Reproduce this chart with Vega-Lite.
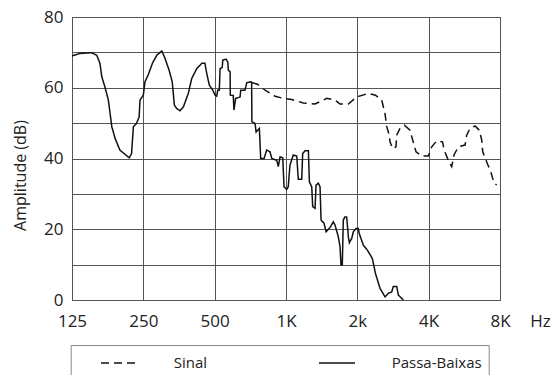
{
  "$schema": "https://vega.github.io/schema/vega-lite/v6.json",
  "width": 428,
  "height": 283,
  "autosize": {"type": "none"},
  "padding": {"left": 72, "top": 17, "right": 55, "bottom": 75},
  "background": "white",
  "config": {
    "font": "Open Sans",
    "view": {"stroke": "#333", "strokeWidth": 1}
  },
  "data": {
    "values": [
      {"f": 125, "db": 69.0, "serie": "Passa-Baixas"},
      {"f": 135, "db": 69.7, "serie": "Passa-Baixas"},
      {"f": 151, "db": 69.9, "serie": "Passa-Baixas"},
      {"f": 159, "db": 69.2, "serie": "Passa-Baixas"},
      {"f": 164, "db": 66.9, "serie": "Passa-Baixas"},
      {"f": 167, "db": 63.1, "serie": "Passa-Baixas"},
      {"f": 172, "db": 60.3, "serie": "Passa-Baixas"},
      {"f": 178, "db": 56.5, "serie": "Passa-Baixas"},
      {"f": 184, "db": 49.0, "serie": "Passa-Baixas"},
      {"f": 190, "db": 45.7, "serie": "Passa-Baixas"},
      {"f": 199, "db": 42.4, "serie": "Passa-Baixas"},
      {"f": 209, "db": 41.2, "serie": "Passa-Baixas"},
      {"f": 218, "db": 40.2, "serie": "Passa-Baixas"},
      {"f": 223, "db": 41.4, "serie": "Passa-Baixas"},
      {"f": 227, "db": 49.0, "serie": "Passa-Baixas"},
      {"f": 234, "db": 49.9, "serie": "Passa-Baixas"},
      {"f": 240, "db": 51.8, "serie": "Passa-Baixas"},
      {"f": 242, "db": 56.5, "serie": "Passa-Baixas"},
      {"f": 250, "db": 57.9, "serie": "Passa-Baixas"},
      {"f": 254, "db": 61.7, "serie": "Passa-Baixas"},
      {"f": 262, "db": 63.6, "serie": "Passa-Baixas"},
      {"f": 273, "db": 66.9, "serie": "Passa-Baixas"},
      {"f": 285, "db": 69.2, "serie": "Passa-Baixas"},
      {"f": 299, "db": 70.4, "serie": "Passa-Baixas"},
      {"f": 307, "db": 68.7, "serie": "Passa-Baixas"},
      {"f": 321, "db": 65.0, "serie": "Passa-Baixas"},
      {"f": 331, "db": 61.7, "serie": "Passa-Baixas"},
      {"f": 338, "db": 55.1, "serie": "Passa-Baixas"},
      {"f": 346, "db": 54.1, "serie": "Passa-Baixas"},
      {"f": 357, "db": 53.5, "serie": "Passa-Baixas"},
      {"f": 369, "db": 54.6, "serie": "Passa-Baixas"},
      {"f": 387, "db": 58.4, "serie": "Passa-Baixas"},
      {"f": 400, "db": 62.6, "serie": "Passa-Baixas"},
      {"f": 420, "db": 65.4, "serie": "Passa-Baixas"},
      {"f": 441, "db": 66.9, "serie": "Passa-Baixas"},
      {"f": 455, "db": 66.9, "serie": "Passa-Baixas"},
      {"f": 463, "db": 64.0, "serie": "Passa-Baixas"},
      {"f": 475, "db": 60.7, "serie": "Passa-Baixas"},
      {"f": 491, "db": 59.3, "serie": "Passa-Baixas"},
      {"f": 502, "db": 57.9, "serie": "Passa-Baixas"},
      {"f": 510, "db": 57.6, "serie": "Passa-Baixas"},
      {"f": 515, "db": 59.3, "serie": "Passa-Baixas"},
      {"f": 523, "db": 59.3, "serie": "Passa-Baixas"},
      {"f": 527, "db": 65.4, "serie": "Passa-Baixas"},
      {"f": 538, "db": 65.7, "serie": "Passa-Baixas"},
      {"f": 541, "db": 67.8, "serie": "Passa-Baixas"},
      {"f": 558, "db": 68.1, "serie": "Passa-Baixas"},
      {"f": 568, "db": 67.3, "serie": "Passa-Baixas"},
      {"f": 571, "db": 65.0, "serie": "Passa-Baixas"},
      {"f": 581, "db": 64.5, "serie": "Passa-Baixas"},
      {"f": 582, "db": 57.9, "serie": "Passa-Baixas"},
      {"f": 599, "db": 57.8, "serie": "Passa-Baixas"},
      {"f": 603, "db": 53.7, "serie": "Passa-Baixas"},
      {"f": 613, "db": 57.0, "serie": "Passa-Baixas"},
      {"f": 640, "db": 57.4, "serie": "Passa-Baixas"},
      {"f": 644, "db": 59.3, "serie": "Passa-Baixas"},
      {"f": 671, "db": 59.3, "serie": "Passa-Baixas"},
      {"f": 683, "db": 61.4, "serie": "Passa-Baixas"},
      {"f": 712, "db": 61.7, "serie": "Passa-Baixas"},
      {"f": 716, "db": 61.5, "serie": "Passa-Baixas"},
      {"f": 718, "db": 50.4, "serie": "Passa-Baixas"},
      {"f": 740, "db": 49.9, "serie": "Passa-Baixas"},
      {"f": 748, "db": 47.5, "serie": "Passa-Baixas"},
      {"f": 772, "db": 48.5, "serie": "Passa-Baixas"},
      {"f": 777, "db": 44.3, "serie": "Passa-Baixas"},
      {"f": 782, "db": 40.0, "serie": "Passa-Baixas"},
      {"f": 808, "db": 40.0, "serie": "Passa-Baixas"},
      {"f": 829, "db": 42.4, "serie": "Passa-Baixas"},
      {"f": 856, "db": 41.9, "serie": "Passa-Baixas"},
      {"f": 871, "db": 40.0, "serie": "Passa-Baixas"},
      {"f": 914, "db": 39.5, "serie": "Passa-Baixas"},
      {"f": 928, "db": 37.7, "serie": "Passa-Baixas"},
      {"f": 944, "db": 40.5, "serie": "Passa-Baixas"},
      {"f": 969, "db": 40.2, "serie": "Passa-Baixas"},
      {"f": 981, "db": 32.0, "serie": "Passa-Baixas"},
      {"f": 1007, "db": 31.3, "serie": "Passa-Baixas"},
      {"f": 1022, "db": 32.0, "serie": "Passa-Baixas"},
      {"f": 1039, "db": 38.1, "serie": "Passa-Baixas"},
      {"f": 1073, "db": 41.0, "serie": "Passa-Baixas"},
      {"f": 1110, "db": 40.7, "serie": "Passa-Baixas"},
      {"f": 1127, "db": 34.1, "serie": "Passa-Baixas"},
      {"f": 1165, "db": 34.1, "serie": "Passa-Baixas"},
      {"f": 1176, "db": 41.4, "serie": "Passa-Baixas"},
      {"f": 1203, "db": 42.2, "serie": "Passa-Baixas"},
      {"f": 1243, "db": 42.2, "serie": "Passa-Baixas"},
      {"f": 1255, "db": 33.4, "serie": "Passa-Baixas"},
      {"f": 1284, "db": 32.0, "serie": "Passa-Baixas"},
      {"f": 1296, "db": 26.4, "serie": "Passa-Baixas"},
      {"f": 1326, "db": 25.9, "serie": "Passa-Baixas"},
      {"f": 1339, "db": 32.5, "serie": "Passa-Baixas"},
      {"f": 1369, "db": 33.0, "serie": "Passa-Baixas"},
      {"f": 1392, "db": 32.0, "serie": "Passa-Baixas"},
      {"f": 1406, "db": 22.6, "serie": "Passa-Baixas"},
      {"f": 1447, "db": 21.7, "serie": "Passa-Baixas"},
      {"f": 1476, "db": 19.3, "serie": "Passa-Baixas"},
      {"f": 1534, "db": 20.5, "serie": "Passa-Baixas"},
      {"f": 1584, "db": 22.1, "serie": "Passa-Baixas"},
      {"f": 1610, "db": 21.2, "serie": "Passa-Baixas"},
      {"f": 1662, "db": 17.9, "serie": "Passa-Baixas"},
      {"f": 1690, "db": 15.1, "serie": "Passa-Baixas"},
      {"f": 1707, "db": 9.9, "serie": "Passa-Baixas"},
      {"f": 1728, "db": 9.9, "serie": "Passa-Baixas"},
      {"f": 1745, "db": 22.6, "serie": "Passa-Baixas"},
      {"f": 1774, "db": 23.5, "serie": "Passa-Baixas"},
      {"f": 1804, "db": 23.4, "serie": "Passa-Baixas"},
      {"f": 1833, "db": 17.9, "serie": "Passa-Baixas"},
      {"f": 1851, "db": 16.2, "serie": "Passa-Baixas"},
      {"f": 1894, "db": 17.4, "serie": "Passa-Baixas"},
      {"f": 1924, "db": 19.3, "serie": "Passa-Baixas"},
      {"f": 1974, "db": 20.2, "serie": "Passa-Baixas"},
      {"f": 2019, "db": 20.2, "serie": "Passa-Baixas"},
      {"f": 2037, "db": 18.8, "serie": "Passa-Baixas"},
      {"f": 2120, "db": 15.5, "serie": "Passa-Baixas"},
      {"f": 2204, "db": 14.1, "serie": "Passa-Baixas"},
      {"f": 2312, "db": 11.8, "serie": "Passa-Baixas"},
      {"f": 2386, "db": 7.5, "serie": "Passa-Baixas"},
      {"f": 2493, "db": 3.3, "serie": "Passa-Baixas"},
      {"f": 2617, "db": 0.9, "serie": "Passa-Baixas"},
      {"f": 2702, "db": 1.9, "serie": "Passa-Baixas"},
      {"f": 2794, "db": 2.3, "serie": "Passa-Baixas"},
      {"f": 2836, "db": 3.8, "serie": "Passa-Baixas"},
      {"f": 2932, "db": 3.8, "serie": "Passa-Baixas"},
      {"f": 2979, "db": 1.4, "serie": "Passa-Baixas"},
      {"f": 3128, "db": 0.0, "serie": "Passa-Baixas"},
      {"f": 716, "db": 61.5, "serie": "Sinal"},
      {"f": 757, "db": 61.0, "serie": "Sinal"},
      {"f": 816, "db": 59.3, "serie": "Sinal"},
      {"f": 899, "db": 57.6, "serie": "Sinal"},
      {"f": 974, "db": 57.0, "serie": "Sinal"},
      {"f": 1057, "db": 56.7, "serie": "Sinal"},
      {"f": 1184, "db": 55.7, "serie": "Sinal"},
      {"f": 1326, "db": 55.4, "serie": "Sinal"},
      {"f": 1486, "db": 57.0, "serie": "Sinal"},
      {"f": 1610, "db": 56.5, "serie": "Sinal"},
      {"f": 1690, "db": 55.4, "serie": "Sinal"},
      {"f": 1833, "db": 55.4, "serie": "Sinal"},
      {"f": 1988, "db": 57.4, "serie": "Sinal"},
      {"f": 2225, "db": 58.4, "serie": "Sinal"},
      {"f": 2386, "db": 57.9, "serie": "Sinal"},
      {"f": 2535, "db": 56.5, "serie": "Sinal"},
      {"f": 2617, "db": 52.7, "serie": "Sinal"},
      {"f": 2661, "db": 49.0, "serie": "Sinal"},
      {"f": 2728, "db": 46.6, "serie": "Sinal"},
      {"f": 2747, "db": 44.7, "serie": "Sinal"},
      {"f": 2820, "db": 42.8, "serie": "Sinal"},
      {"f": 2912, "db": 43.3, "serie": "Sinal"},
      {"f": 2932, "db": 46.6, "serie": "Sinal"},
      {"f": 3027, "db": 48.5, "serie": "Sinal"},
      {"f": 3158, "db": 49.4, "serie": "Sinal"},
      {"f": 3338, "db": 48.0, "serie": "Sinal"},
      {"f": 3425, "db": 45.2, "serie": "Sinal"},
      {"f": 3538, "db": 41.9, "serie": "Sinal"},
      {"f": 3739, "db": 40.7, "serie": "Sinal"},
      {"f": 3986, "db": 40.7, "serie": "Sinal"},
      {"f": 4121, "db": 43.3, "serie": "Sinal"},
      {"f": 4325, "db": 45.0, "serie": "Sinal"},
      {"f": 4577, "db": 44.7, "serie": "Sinal"},
      {"f": 4645, "db": 42.4, "serie": "Sinal"},
      {"f": 4841, "db": 39.5, "serie": "Sinal"},
      {"f": 5005, "db": 37.7, "serie": "Sinal"},
      {"f": 5116, "db": 41.0, "serie": "Sinal"},
      {"f": 5337, "db": 43.3, "serie": "Sinal"},
      {"f": 5696, "db": 43.8, "serie": "Sinal"},
      {"f": 5788, "db": 46.6, "serie": "Sinal"},
      {"f": 5979, "db": 48.5, "serie": "Sinal"},
      {"f": 6277, "db": 49.2, "serie": "Sinal"},
      {"f": 6543, "db": 48.0, "serie": "Sinal"},
      {"f": 6699, "db": 45.2, "serie": "Sinal"},
      {"f": 6765, "db": 41.9, "serie": "Sinal"},
      {"f": 7071, "db": 38.6, "serie": "Sinal"},
      {"f": 7311, "db": 36.3, "serie": "Sinal"},
      {"f": 7549, "db": 33.1, "serie": "Sinal"},
      {"f": 7749, "db": 32.5, "serie": "Sinal"}
    ]
  },
  "mark": {"type": "line", "color": "#111", "strokeWidth": 1.5, "interpolate": "linear"},
  "encoding": {
    "x": {
      "field": "f",
      "type": "quantitative",
      "scale": {"type": "log", "base": 2, "domain": [125, 8000], "nice": false},
      "axis": {
        "values": [125, 250, 500, 1000, 2000, 4000, 8000],
        "labelExpr": "datum.value == 125 ? '125' : datum.value == 250 ? '250' : datum.value == 500 ? '500' : datum.value == 1000 ? '1K' : datum.value == 2000 ? '2k' : datum.value == 4000 ? '4K' : '8K'",
        "grid": true,
        "gridColor": "#555",
        "gridOpacity": 1,
        "gridWidth": 1,
        "domain": false,
        "ticks": false,
        "tickSize": 0,
        "labelFontSize": 17,
        "labelColor": "#222",
        "labelBaseline": "middle",
        "labelPadding": 21,
        "labelFlush": false,
        "labelOverlap": false,
        "title": "Hz",
        "titleFontSize": 17,
        "titleFontWeight": "normal",
        "titleColor": "#222",
        "titleX": 468,
        "titleY": 21.5,
        "titleAlign": "center",
        "titleBaseline": "middle",
        "titleAngle": 0
      }
    },
    "y": {
      "field": "db",
      "type": "quantitative",
      "scale": {"domain": [0, 80], "nice": false},
      "axis": {
        "values": [0, 10, 20, 30, 40, 50, 60, 70, 80],
        "labelExpr": "datum.value % 20 == 0 ? datum.label : ''",
        "grid": true,
        "gridColor": "#555",
        "gridOpacity": 1,
        "gridWidth": 1,
        "domain": false,
        "ticks": false,
        "tickSize": 0,
        "labelFontSize": 17,
        "labelColor": "#222",
        "labelBaseline": "middle",
        "labelPadding": 9,
        "labelFlush": false,
        "labelOverlap": false,
        "title": "Amplitude (dB)",
        "titleFontSize": 16,
        "titleFontWeight": "normal",
        "titleColor": "#222",
        "titleX": -52,
        "titleY": 158,
        "titleAlign": "center",
        "titleBaseline": "middle",
        "titleAngle": -90
      }
    },
    "strokeDash": {
      "field": "serie",
      "type": "nominal",
      "scale": {"domain": ["Sinal", "Passa-Baixas"], "range": [[8, 5], [1, 0]]},
      "legend": {
        "title": null,
        "orient": "none",
        "legendX": -1.3,
        "legendY": 328,
        "direction": "horizontal",
        "columns": 2,
        "padding": 7,
        "strokeColor": "#888",
        "fillColor": "white",
        "symbolType": "M1.23,0H4.83",
        "symbolSize": 400,
        "symbolStrokeColor": "#111",
        "symbolStrokeWidth": 1.4,
        "symbolFillColor": "transparent",
        "labelFontSize": 15,
        "labelColor": "#222",
        "labelOffset": 74,
        "columnPadding": 88,
        "labelLimit": 0
      }
    }
  }
}
